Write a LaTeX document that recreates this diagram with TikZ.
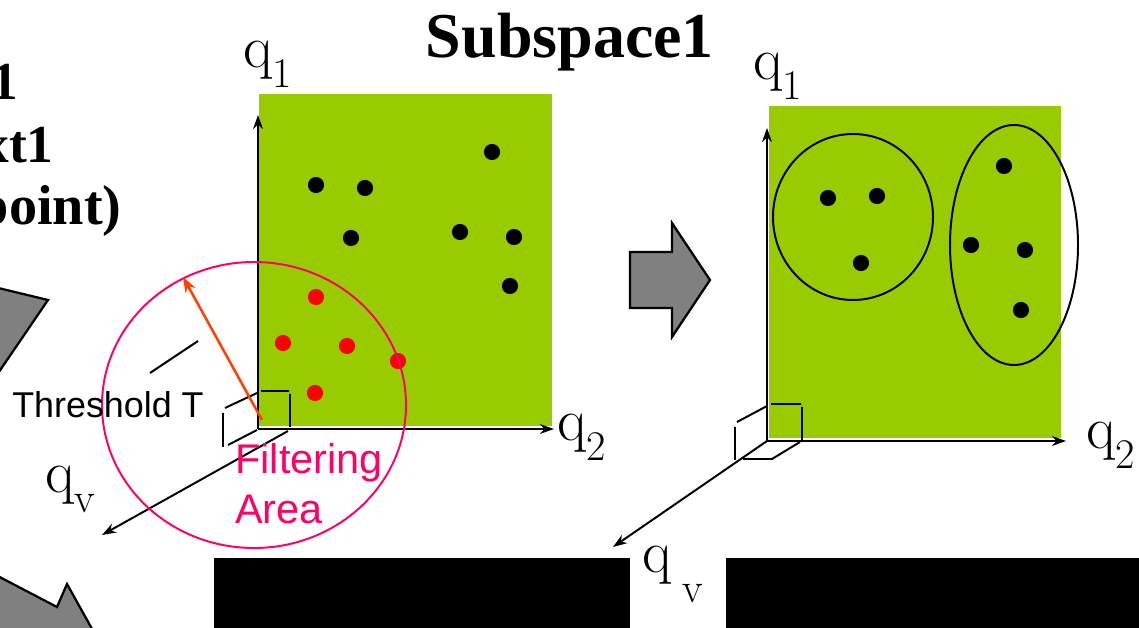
\documentclass[tikz,border=0pt]{standalone}
\usepackage{fontspec}
\usepackage{tikz}
\usetikzlibrary{arrows.meta}
\setsansfont{Liberation Sans}
\newfontfamily\timesfont{Liberation Serif}
\definecolor{cgreen}{HTML}{99CC00}
\definecolor{cpink}{HTML}{FF0066}
\definecolor{cred}{HTML}{FF0000}
\definecolor{corange}{HTML}{FF4000}
\definecolor{cgrey}{HTML}{808080}
% axis label: q with a lowered index
\newcommand{\qlab}[3]{\fontsize{43}{43}\selectfont q\hspace{#3}\raisebox{-#2}{\fontsize{30}{30}\selectfont #1}}

\begin{document}
\begin{tikzpicture}[x=0.025cm,y=-0.025cm,
  axis/.style={line width=1.4pt,-{Stealth[length=10pt,width=7pt]}},
  cube/.style={line width=1.4pt},
  dot/.style={circle,fill=black,inner sep=0pt,minimum size=11.5pt},
  reddot/.style={dot,fill=cred},
  grayarrow/.style={fill=cgrey,draw=black,line width=1.6pt,line join=miter},
  lab/.style={inner sep=0pt,anchor=base west},
  cut/.style={font=\timesfont\bfseries\fontsize{38}{38}\selectfont,inner sep=0pt,anchor=base east}]
  \useasboundingbox (0,0) rectangle (1139,628);

  % cut-off texts on the left
  \node[cut] (t1) at (18,100) {1};
  \node[cut] (t2) at (54,163) {xt1};
  \node[cut,font=\timesfont\bfseries\fontsize{40}{40}\selectfont] (t3) at (122,225) {point)};

  % grey arrows
  \draw[grayarrow] (-10,286) -- (48,300) -- (-10,385) -- cycle;
  \draw[grayarrow] (-10,572) -- (57,607) -- (67,584) -- (96,636) -- (-10,636) -- cycle;
  \draw[grayarrow] (630,252) -- (672,252) -- (672,223) -- (710,280) -- (672,337) -- (672,308) -- (630,308) -- cycle;

  % title
  \node[font=\timesfont\bfseries\fontsize{45.5}{46}\selectfont,inner sep=0pt,anchor=base] (title) at (570,58) {Subspace1};

  % left subspace
  \fill[cgreen] (259,94) rectangle (552,426);
  \coordinate (lo) at (258,429);
  \coordinate (lq1) at (258,115);
  \coordinate (lq2) at (554,429);
  \coordinate (lqs) at (288,431);
  \coordinate (lqv) at (102,535);
  \draw[axis] (lo) -- (lq1);
  \draw[axis] (lo) -- (lq2);
  \draw[axis] (lqs) -- (lqv);
  \draw[cube] (261,391) -- (289,391) (290,394) -- (290,427)
    (225,408) -- (257,393) (223,413) -- (223,447) (257,430) -- (228,445);
  \node[lab] (lq1l) at (243,68) {\qlab{1}{14pt}{0pt}};
  \node[lab] (lq2l) at (557,441) {\qlab{2}{14pt}{0pt}};
  \node[lab] (lqvl) at (45,493) {\qlab{v}{14pt}{0pt}};

  \foreach \x/\y [count=\i] in {316/185,365/188,492/152,351/238,460/232,514/237,510/286}
    \node[dot] (lb\i) at (\x,\y) {};
  \foreach \x/\y [count=\i] in {316/297,283/343,347/346,398/361,315/393}
    \node[reddot] (lr\i) at (\x,\y) {};

  % filtering area
  \draw[cpink,line width=1.4pt] (254,405) ellipse [x radius=152,y radius=143];
  \coordinate (thrs) at (262,420);
  \coordinate (thre) at (183,277);
  \draw[corange,line width=1.8pt,-{Stealth[length=11pt,width=8pt]}] (thrs) -- (thre);
  \coordinate (tks) at (150,373);
  \coordinate (tke) at (198,341);
  \draw[line width=1.4pt] (tks) -- (tke);
  \node[font=\sffamily\fontsize{25.5}{30}\selectfont,lab] (thr) at (12,418) {Threshold T};
  \node[font=\sffamily\fontsize{29.5}{36}\selectfont,text=cpink,inner sep=0pt,
    anchor=north west,align=left] (filt) at (235,443) {Filtering\\Area};

  % right subspace
  \fill[cgreen] (769,106) rectangle (1061,438);
  \coordinate (ro) at (767,441);
  \coordinate (rq1) at (767,128);
  \coordinate (rq2) at (1066,441);
  \coordinate (rqv) at (613,547);
  \draw[axis] (ro) -- (rq1);
  \draw[axis] (ro) -- (rq2);
  \draw[axis] (ro) -- (rqv);
  \draw[cube] (771,404) -- (801,404) (802,407) -- (802,440)
    (737,422) -- (767,406) (735,427) -- (735,460)
    (743,459) -- (772,459) -- (800,442);
  \node[lab] (rq1l) at (753,80) {\qlab{1}{14pt}{0pt}};
  \node[lab] (rq2l) at (1086,449) {\qlab{2}{14pt}{0pt}};
  \node[lab] (rqvl) at (642,573) {\qlab{v}{21pt}{8pt}};

  \draw[line width=1.4pt] (853,217) ellipse [x radius=80,y radius=83];
  \draw[line width=1.4pt] (1014,245) ellipse [x radius=64,y radius=120];
  \foreach \x/\y [count=\i] in {828/198,877/196,861/263,1004/166,971/245,1025/250,1021/310}
    \node[dot] (rb\i) at (\x,\y) {};

  % hidden boxes
  \fill (214,558) rectangle (630,628);
  \fill (726,558) rectangle (1139,628);
\end{tikzpicture}
\end{document}
